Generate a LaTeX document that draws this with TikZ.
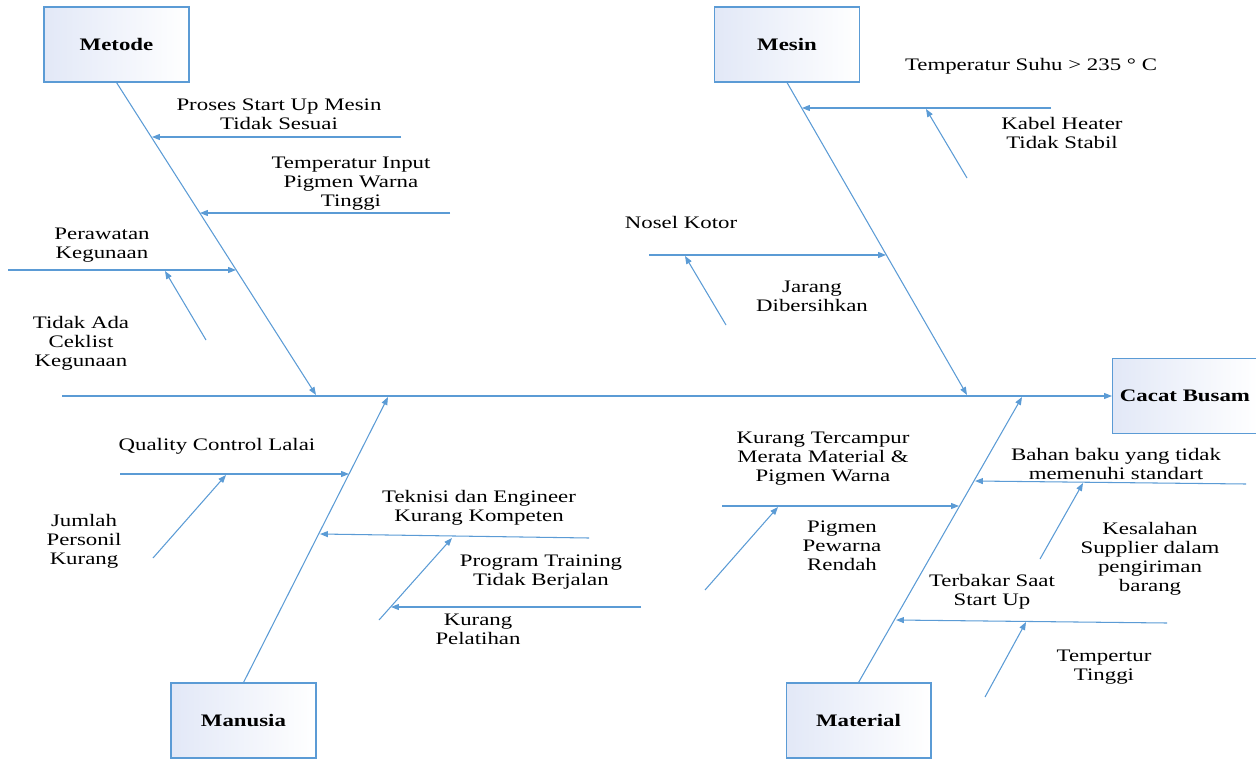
\documentclass[tikz,border=0pt]{standalone}
\usepackage{fontspec}
\setmainfont{Liberation Serif}[FakeStretch=1.3]
\usetikzlibrary{arrows.meta}

\definecolor{fishblue}{RGB}{91,155,213}
\definecolor{boxtint}{RGB}{226,232,247}
\tikzset{
  catbox/.style={draw=fishblue, line width=0.6pt, minimum width=2.9cm, minimum height=1.5cm,
    inner sep=0pt, left color=boxtint, right color=white,
    font=\fontsize{10}{10.8}\selectfont\bfseries},
  bone/.style={draw=fishblue, line width=0.6pt, -{Triangle[length=4.5pt,width=3.4pt]}},
  lbl/.style={align=center, inner sep=0pt, font=\fontsize{10}{10.8}\selectfont},
}

\begin{document}
\begin{tikzpicture}[x=0.02cm, y=-0.02cm]
\useasboundingbox (0,0) rectangle (1256,760);
\clip (0,0) rectangle (1256,760);
% category boxes
\node[catbox] (metode) at (116.5,44.5) {Metode};
\node[catbox] (mesin) at (787,44.5) {Mesin};
\node[catbox] (manusia) at (243.5,720.5) {Manusia};
\node[catbox] (material) at (858.5,720.5) {Material};
\node[catbox] (cacat) at (1185,396) {Cacat Busam};
% spine and main bones
\coordinate (tail) at (62,396);
\coordinate (mt) at (316,395);
\coordinate (ms) at (967,395);
\coordinate (mn) at (388,397);
\coordinate (ma) at (1022,397);
\draw[bone] (tail) -- (cacat.west);
\draw[bone] (metode.south) -- (mt);
\draw[bone] (mesin.south) -- (ms);
\draw[bone] (manusia.north) -- (mn);
\draw[bone] (material.north) -- (ma);
% Metode causes
\coordinate (s1) at (401,137);  \coordinate (e1) at (152,137);
\coordinate (s2) at (450,213);  \coordinate (e2) at (200,213);
\coordinate (s3) at (8,270);    \coordinate (e3) at (236,270);
\coordinate (s3a) at (206,340); \coordinate (e3a) at (165,271);
% Mesin causes
\coordinate (s4) at (1051,108); \coordinate (e4) at (802,108);
\coordinate (s4a) at (967,178); \coordinate (e4a) at (926,109);
\coordinate (s5) at (649,255);  \coordinate (e5) at (886,255);
\coordinate (s5a) at (726,325); \coordinate (e5a) at (685,256);
% Manusia causes
\coordinate (s6) at (120,474);  \coordinate (e6) at (349,474);
\coordinate (s6a) at (153,558); \coordinate (e6a) at (226,475);
\coordinate (s7) at (589,538);  \coordinate (e7) at (320,534);
\coordinate (s7a) at (379,620); \coordinate (e7a) at (452,538);
\coordinate (s7b) at (641,607); \coordinate (e7b) at (391,607);
% Material causes
\coordinate (s8) at (722,506);  \coordinate (e8) at (959,506);
\coordinate (s8a) at (705,590); \coordinate (e8a) at (778,507);
\coordinate (s9) at (1246,484); \coordinate (e9) at (975,481);
\coordinate (s9a) at (1040,559); \coordinate (e9a) at (1083,483);
\coordinate (s10) at (1167,623); \coordinate (e10) at (896,620);
\coordinate (s10a) at (985,697); \coordinate (e10a) at (1026,622);
\foreach \p in {1,2,3,3a,4,4a,5,5a,6,6a,7,7a,7b,8,8a,9,9a,10,10a}
  \draw[bone] (s\p) -- (e\p);
% labels
\node[lbl] (l1) at (279,114) {Proses Start Up Mesin\\Tidak Sesuai};
\node[lbl] (l2) at (351,184) {Temperatur Input\\Pigmen Warna\\Tinggi};
\node[lbl] (l3) at (102,245) {Perawatan\\Kegunaan};
\node[lbl] (l3a) at (81,343) {Tidak Ada\\Ceklist\\Kegunaan};
\node[lbl] (l4) at (1031,66) {Temperatur Suhu > 235 ° C};
\node[lbl] (l4a) at (1062,133) {Kabel Heater\\Tidak Stabil};
\node[lbl] (l5) at (681,222) {Nosel Kotor};
\node[lbl] (l5a) at (812,296) {Jarang\\Dibersihkan};
\node[lbl] (l6) at (217,446) {Quality Control Lalai};
\node[lbl] (l6a) at (84,541) {Jumlah\\Personil\\Kurang};
\node[lbl] (l7) at (479,508) {Teknisi dan Engineer\\Kurang Kompeten};
\node[lbl] (l7a) at (541,572) {Program Training\\Tidak Berjalan};
\node[lbl] (l7b) at (478,629) {Kurang\\Pelatihan};
\node[lbl] (l8) at (823,459) {Kurang Tercampur\\Merata Material \&\\Pigmen Warna};
\node[lbl] (l8a) at (842,546) {Pigmen\\Pewarna\\Rendah};
\node[lbl] (l9) at (1116,464) {Bahan baku yang tidak\\memenuhi standart};
\node[lbl] (l9a) at (1150,559) {Kesalahan\\Supplier dalam\\pengiriman\\barang};
\node[lbl] (l10) at (992,592) {Terbakar Saat\\Start Up};
\node[lbl] (l10a) at (1104,667) {Tempertur\\Tinggi};
\end{tikzpicture}
\end{document}
